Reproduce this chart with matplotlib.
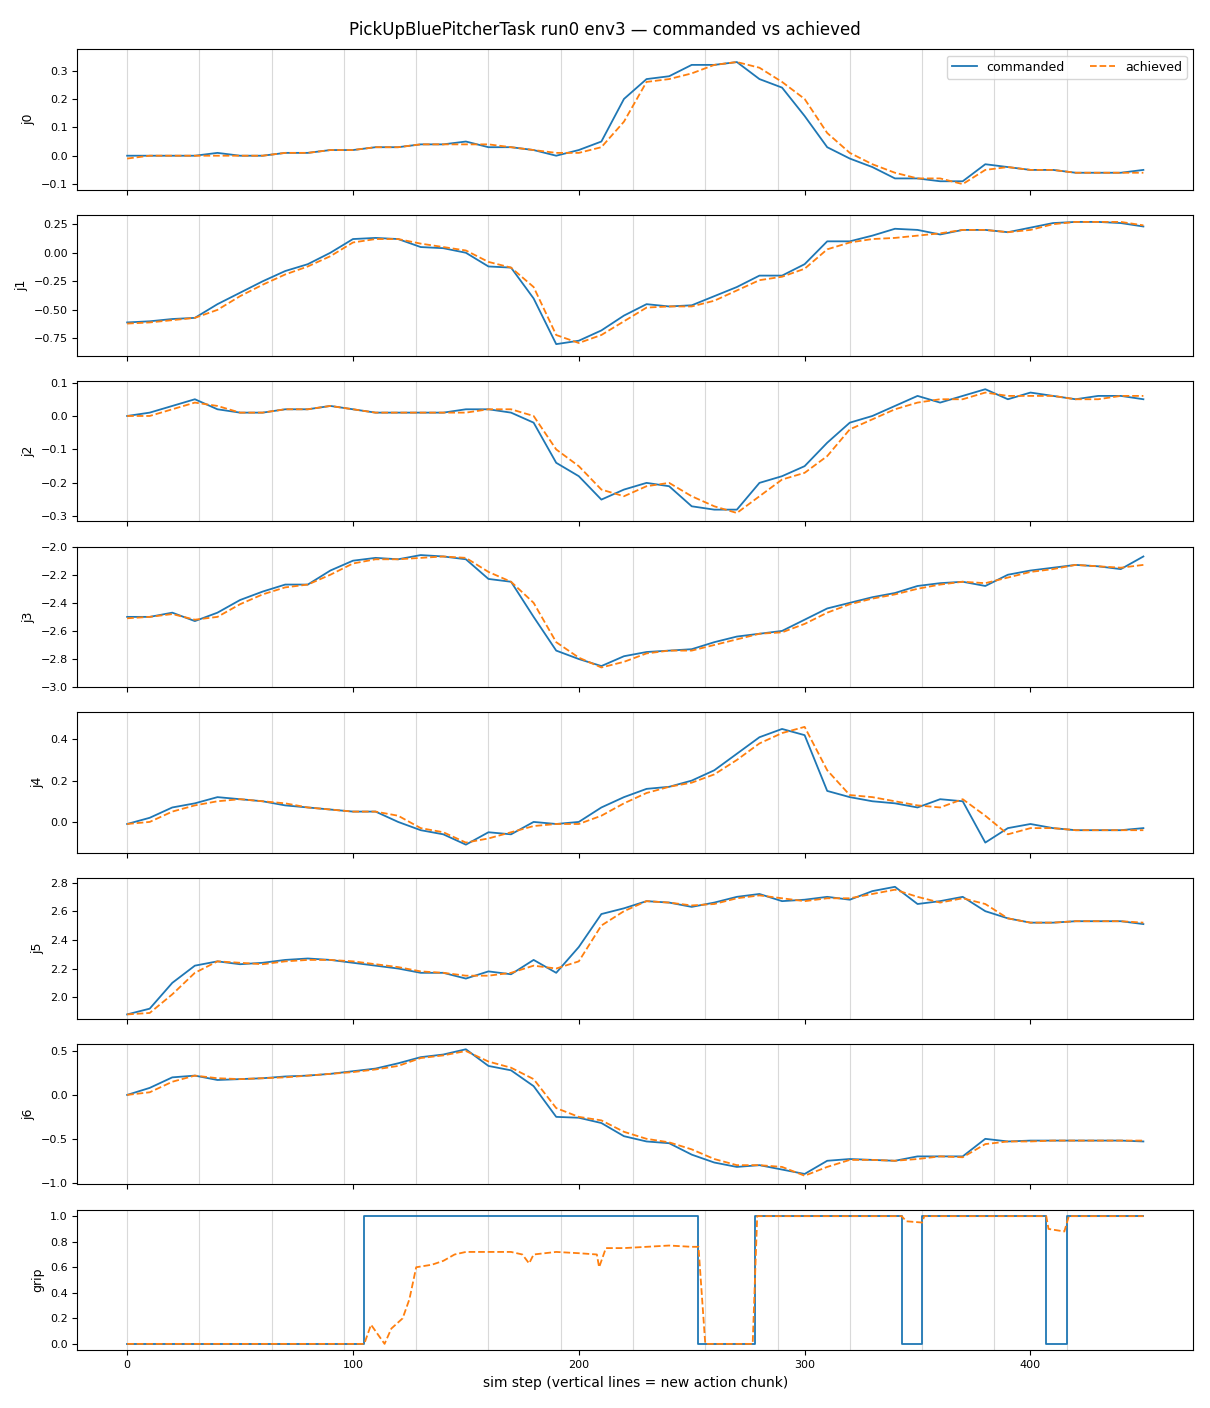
import numpy as np
import matplotlib
matplotlib.use("Agg")
import matplotlib.pyplot as plt

steps = np.arange(0, 451, 10)
chunk_starts = np.arange(0, 420, 32)

j0_cmd = [0, 0, 0, 0, 0.01, 0, 0, 0.01, 0.01, 0.02, 0.02, 0.03, 0.03, 0.04, 0.04, 0.05, 0.03, 0.03, 0.02, 0.0,
          0.02, 0.05, 0.2, 0.27, 0.28, 0.32, 0.32, 0.33, 0.27, 0.24, 0.14, 0.03, -0.01, -0.04, -0.08, -0.08,
          -0.09, -0.09, -0.03, -0.04, -0.05, -0.05, -0.06, -0.06, -0.06, -0.05]
j0_ach = [-0.01, 0, 0, 0, 0, 0, 0, 0.01, 0.01, 0.02, 0.02, 0.03, 0.03, 0.04, 0.04, 0.04, 0.04, 0.03, 0.02, 0.01,
          0.01, 0.03, 0.12, 0.26, 0.27, 0.29, 0.32, 0.33, 0.31, 0.26, 0.2, 0.08, 0.01, -0.03, -0.06, -0.08,
          -0.08, -0.1, -0.05, -0.04, -0.05, -0.05, -0.06, -0.06, -0.06, -0.06]
j1_cmd = [-0.61, -0.6, -0.58, -0.57, -0.45, -0.35, -0.25, -0.16, -0.1, 0.0, 0.12, 0.13, 0.12, 0.05, 0.04, 0.0,
          -0.12, -0.13, -0.4, -0.8, -0.77, -0.68, -0.55, -0.45, -0.47, -0.46, -0.38, -0.3, -0.2, -0.2, -0.1,
          0.1, 0.1, 0.15, 0.21, 0.2, 0.16, 0.2, 0.2, 0.18, 0.22, 0.26, 0.27, 0.27, 0.26, 0.23]
j1_ach = [-0.62, -0.61, -0.59, -0.57, -0.5, -0.38, -0.28, -0.19, -0.12, -0.03, 0.09, 0.12, 0.12, 0.08, 0.05, 0.02,
          -0.08, -0.13, -0.3, -0.72, -0.79, -0.72, -0.6, -0.48, -0.47, -0.47, -0.42, -0.33, -0.24, -0.21, -0.14,
          0.03, 0.09, 0.12, 0.13, 0.15, 0.17, 0.2, 0.2, 0.18, 0.2, 0.25, 0.27, 0.27, 0.27, 0.24]
j2_cmd = [0, 0.01, 0.03, 0.05, 0.02, 0.01, 0.01, 0.02, 0.02, 0.03, 0.02, 0.01, 0.01, 0.01, 0.01, 0.02, 0.02, 0.01,
          -0.02, -0.14, -0.18, -0.25, -0.22, -0.2, -0.21, -0.27, -0.28, -0.28, -0.2, -0.18, -0.15, -0.08, -0.02,
          0.0, 0.03, 0.06, 0.04, 0.06, 0.08, 0.05, 0.07, 0.06, 0.05, 0.06, 0.06, 0.05]
j2_ach = [0, 0, 0.02, 0.04, 0.03, 0.01, 0.01, 0.02, 0.02, 0.03, 0.02, 0.01, 0.01, 0.01, 0.01, 0.01, 0.02, 0.02,
          0.0, -0.1, -0.15, -0.22, -0.24, -0.21, -0.2, -0.24, -0.27, -0.29, -0.24, -0.19, -0.17, -0.12, -0.04,
          -0.01, 0.02, 0.04, 0.05, 0.05, 0.07, 0.06, 0.06, 0.06, 0.05, 0.05, 0.06, 0.06]
j3_cmd = [-2.5, -2.5, -2.47, -2.53, -2.47, -2.38, -2.32, -2.27, -2.27, -2.17, -2.1, -2.08, -2.09, -2.06, -2.07,
          -2.09, -2.23, -2.25, -2.5, -2.74, -2.8, -2.85, -2.78, -2.75, -2.74, -2.73, -2.68, -2.64, -2.62, -2.6,
          -2.52, -2.44, -2.4, -2.36, -2.33, -2.28, -2.26, -2.25, -2.28, -2.2, -2.17, -2.15, -2.13, -2.14, -2.16, -2.07]
j3_ach = [-2.51, -2.5, -2.48, -2.52, -2.5, -2.41, -2.34, -2.29, -2.27, -2.2, -2.12, -2.09, -2.09, -2.08, -2.07,
          -2.08, -2.18, -2.25, -2.4, -2.68, -2.79, -2.86, -2.82, -2.76, -2.74, -2.74, -2.7, -2.66, -2.62, -2.61,
          -2.55, -2.47, -2.41, -2.37, -2.34, -2.3, -2.27, -2.25, -2.26, -2.22, -2.18, -2.16, -2.13, -2.14, -2.15, -2.13]
j4_cmd = [-0.01, 0.02, 0.07, 0.09, 0.12, 0.11, 0.1, 0.08, 0.07, 0.06, 0.05, 0.05, 0.0, -0.04, -0.06, -0.11,
          -0.05, -0.06, 0.0, -0.01, 0.0, 0.07, 0.12, 0.16, 0.17, 0.2, 0.25, 0.33, 0.41, 0.45, 0.42, 0.15, 0.12,
          0.1, 0.09, 0.07, 0.11, 0.1, -0.1, -0.03, -0.01, -0.03, -0.04, -0.04, -0.04, -0.03]
j4_ach = [-0.01, 0.0, 0.05, 0.08, 0.1, 0.11, 0.1, 0.09, 0.07, 0.06, 0.05, 0.05, 0.03, -0.03, -0.05, -0.1,
          -0.08, -0.05, -0.02, -0.01, -0.01, 0.03, 0.09, 0.14, 0.17, 0.19, 0.23, 0.3, 0.38, 0.43, 0.46, 0.25, 0.13,
          0.12, 0.1, 0.08, 0.07, 0.11, 0.03, -0.06, -0.03, -0.03, -0.04, -0.04, -0.04, -0.04]
j5_cmd = [1.88, 1.92, 2.1, 2.22, 2.25, 2.23, 2.24, 2.26, 2.27, 2.26, 2.24, 2.22, 2.2, 2.17, 2.17, 2.13, 2.18,
          2.16, 2.26, 2.17, 2.35, 2.58, 2.62, 2.67, 2.66, 2.63, 2.66, 2.7, 2.72, 2.67, 2.68, 2.7, 2.68, 2.74,
          2.77, 2.65, 2.67, 2.7, 2.6, 2.55, 2.52, 2.52, 2.53, 2.53, 2.53, 2.51]
j5_ach = [1.88, 1.89, 2.02, 2.17, 2.25, 2.24, 2.23, 2.25, 2.26, 2.26, 2.25, 2.23, 2.21, 2.18, 2.17, 2.15, 2.15,
          2.17, 2.22, 2.2, 2.25, 2.5, 2.6, 2.67, 2.66, 2.64, 2.65, 2.69, 2.71, 2.69, 2.67, 2.69, 2.69, 2.72,
          2.75, 2.7, 2.66, 2.69, 2.65, 2.55, 2.52, 2.52, 2.53, 2.53, 2.53, 2.52]
j6_cmd = [0, 0.08, 0.2, 0.22, 0.17, 0.18, 0.19, 0.21, 0.22, 0.24, 0.27, 0.3, 0.36, 0.43, 0.46, 0.52, 0.33, 0.28,
          0.1, -0.25, -0.26, -0.32, -0.47, -0.53, -0.55, -0.68, -0.77, -0.82, -0.8, -0.85, -0.9, -0.75, -0.73,
          -0.74, -0.75, -0.7, -0.7, -0.7, -0.5, -0.53, -0.52, -0.52, -0.52, -0.52, -0.52, -0.53]
j6_ach = [0, 0.03, 0.15, 0.22, 0.19, 0.18, 0.19, 0.2, 0.22, 0.24, 0.26, 0.29, 0.33, 0.42, 0.45, 0.5, 0.38, 0.31,
          0.18, -0.15, -0.25, -0.29, -0.42, -0.5, -0.54, -0.62, -0.73, -0.8, -0.8, -0.82, -0.92, -0.82, -0.74,
          -0.74, -0.75, -0.73, -0.7, -0.71, -0.56, -0.53, -0.53, -0.52, -0.52, -0.52, -0.52, -0.52]

grip_cmd_x = [0, 105, 253, 278, 343, 352, 407, 416, 450]
grip_cmd_y = [0, 1, 0, 1, 0, 1, 0, 1, 1]
grip_ach_x = [0, 105, 108, 112, 114, 117, 122, 125, 128, 135, 140, 145, 150, 160, 170, 175, 178, 180, 190, 200,
              208, 209, 212, 220, 240, 250, 253, 256, 277, 279, 343, 345, 352, 353, 407, 408, 415, 417, 450]
grip_ach_y = [0, 0, 0.15, 0.05, 0, 0.12, 0.2, 0.35, 0.6, 0.62, 0.65, 0.7, 0.72, 0.72, 0.72, 0.7, 0.63, 0.7, 0.72,
              0.71, 0.7, 0.6, 0.75, 0.75, 0.77, 0.76, 0.76, 0.0, 0.0, 1.0, 1.0, 0.96, 0.95, 1.0, 1.0, 0.9, 0.88,
              1.0, 1.0]

joints = [("j0", j0_cmd, j0_ach), ("j1", j1_cmd, j1_ach), ("j2", j2_cmd, j2_ach), ("j3", j3_cmd, j3_ach),
          ("j4", j4_cmd, j4_ach), ("j5", j5_cmd, j5_ach), ("j6", j6_cmd, j6_ach)]
# y limits / tick spacing
ylims = [(-0.12, 0.375), (-0.9, 0.33), (-0.315, 0.105), (-3.0, -2.0), (-0.15, 0.53), (1.85, 2.83), (-1.02, 0.58)]
ysteps = [0.1, 0.25, 0.1, 0.2, 0.2, 0.2, 0.5]

fig, axes = plt.subplots(8, 1, figsize=(12.1, 14.08), dpi=100, sharex=True)
fig.subplots_adjust(left=0.064, right=0.986, top=0.965, bottom=0.041, hspace=0.18)

for ax, (name, cmd, ach), yl, ys in zip(axes[:7], joints, ylims, ysteps):
    for c in chunk_starts:
        ax.axvline(c, color="0.85", lw=0.8, zorder=0)
    ax.plot(steps, cmd, color="#1f77b4", lw=1.3, label="commanded")
    ax.plot(steps, ach, color="#ff7f0e", lw=1.3, ls="--", label="achieved")
    ax.set_ylim(*yl)
    ax.yaxis.set_major_locator(plt.MultipleLocator(ys))
    ax.set_ylabel(name, fontsize=9)
    ax.tick_params(labelsize=8)

ax = axes[7]
for c in chunk_starts:
    ax.axvline(c, color="0.85", lw=0.8, zorder=0)
ax.step(grip_cmd_x, grip_cmd_y, where="post", color="#1f77b4", lw=1.3)
ax.plot(grip_ach_x, grip_ach_y, color="#ff7f0e", lw=1.3, ls="--")
ax.set_ylabel("grip", fontsize=9)
ax.tick_params(labelsize=8)
ax.set_xlabel("sim step (vertical lines = new action chunk)", fontsize=10)
ax.set_xlim(-22, 472)

axes[0].legend(loc="upper right", ncol=2, fontsize=9)
fig.suptitle("PickUpBluePitcherTask run0 env3 \u2014 commanded vs achieved", fontsize=12, y=0.985)
fig.savefig("out.png")
